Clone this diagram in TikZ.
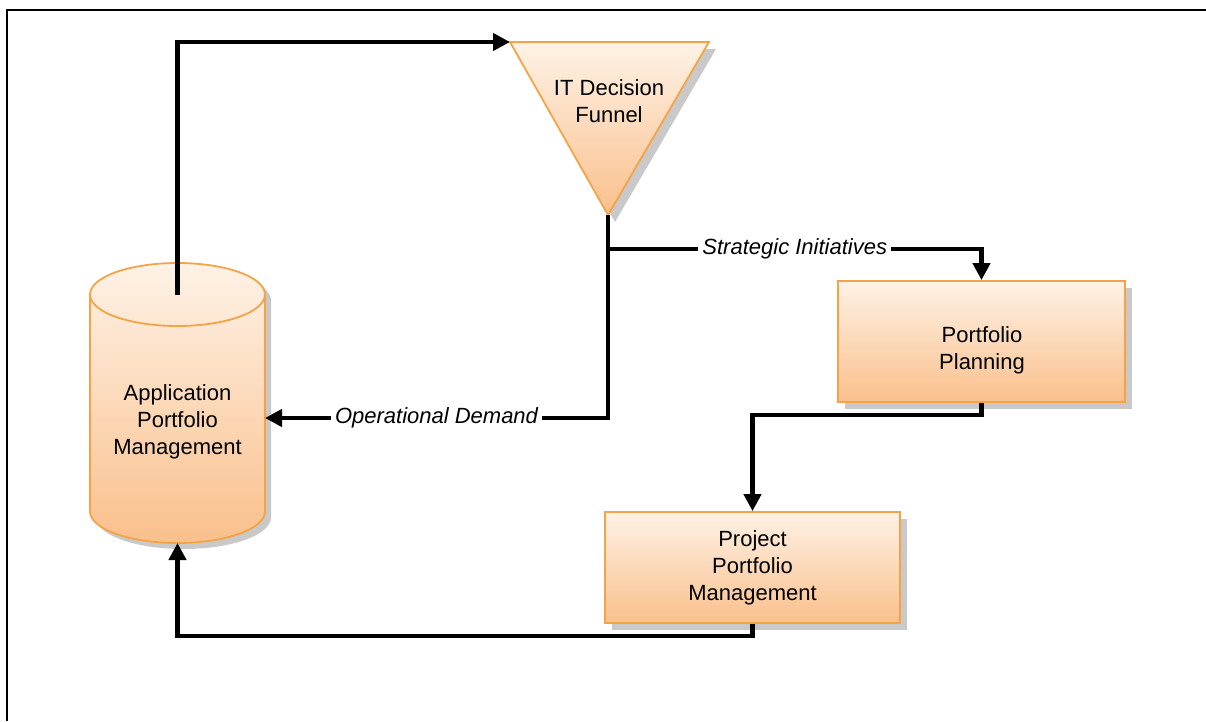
\documentclass[tikz,border=0pt]{standalone}
\usepackage{fontspec}
\setmainfont{Liberation Sans}
\usetikzlibrary{arrows.meta}
\definecolor{peachtop}{HTML}{FEF2E6}
\definecolor{peachbot}{HTML}{FAC08C}
\definecolor{edgeorange}{HTML}{F4A447}
\definecolor{shadowgray}{HTML}{C9C9C9}
\tikzset{
  shapebody/.style={draw=edgeorange, line width=1.8pt, top color=peachtop, bottom color=peachbot},
  boxnode/.style={rectangle, shapebody, inner sep=0pt},
  shadowfill/.style={fill=shadowgray, draw=none},
  flow/.style={line width=4.2pt, -{Triangle[length=17pt,width=17pt]}},
  lbl/.style={font=\fontsize{22}{27}\selectfont, align=center, text=black, inner sep=0pt},
  edgelabel/.style={font=\fontsize{22}{27}\selectfont\itshape, fill=white, inner sep=4pt},
}
\begin{document}
\begin{tikzpicture}[x=1pt,y=-1pt]
\useasboundingbox (0,0) rectangle (1206,721);

% page frame (top and left edges)
\draw[line width=1.4pt] (7,721) -- (7,10) -- (1206,10);

% drop shadows
\fill[shadowfill] (516,49) -- (716,49) -- (615,222) -- cycle;
\fill[shadowfill] (845,288) rectangle (1132,409);
\fill[shadowfill] (612,519) rectangle (907,630);
\fill[shadowfill] (96,300.5) -- (96,517.5)
  arc[start angle=180,end angle=360,x radius=87.5pt,y radius=31.5pt]
  -- (271,300.5)
  arc[start angle=0,end angle=180,x radius=87.5pt,y radius=31.5pt] -- cycle;

% application portfolio cylinder
\path[shapebody] (90,294.5) -- (90,511.5)
  arc[start angle=180,end angle=360,x radius=87.5pt,y radius=31.5pt]
  -- (265,294.5)
  arc[start angle=0,end angle=180,x radius=87.5pt,y radius=31.5pt] -- cycle;
\draw[draw=edgeorange, line width=1.8pt] (90,294.5)
  arc[start angle=180,end angle=360,x radius=87.5pt,y radius=31.5pt];
\node[lbl] (apm) at (177.5,422) {Application\\Portfolio\\Management};
\coordinate (apmTop) at (177.5,295);
\coordinate (apmRight) at (265,418);
\coordinate (apmBottom) at (177.5,543);

% decision funnel
\coordinate (fnlLeft) at (510,42);
\coordinate (fnlRight) at (709,42);
\coordinate (fnlTip) at (608,215);
\path[shapebody] (fnlLeft) -- (fnlRight) -- (fnlTip) -- cycle;
\node[lbl] (fnl) at (609,101) {IT Decision\\Funnel};

% planning boxes
\node[boxnode, minimum width=287pt, minimum height=121pt] (pp) at (981.5,341.5) {};
\node[lbl] (ppText) at (982,350) {Portfolio\\Planning};
\node[boxnode, minimum width=295pt, minimum height=111pt] (ppm) at (752.5,567.5) {};
\node[lbl] (ppmText) at (752.5,567.5) {Project\\Portfolio\\Management};

% connectors
\coordinate (split) at (608,249);
\draw[flow] (apmTop) |- (fnlLeft);
\draw[flow] (fnlTip) |- (apmRight)
  node[edgelabel, pos=0.75] (opd) {Operational Demand};
\draw[flow] (split) -| (pp.north)
  node[edgelabel, pos=0.25] (sti) {Strategic Initiatives};
\draw[flow] (pp.south) -- ++(0,12) -| (ppm.north);
\draw[flow] (ppm.south) -- ++(0,12) -| (apmBottom);
\end{tikzpicture}
\end{document}
